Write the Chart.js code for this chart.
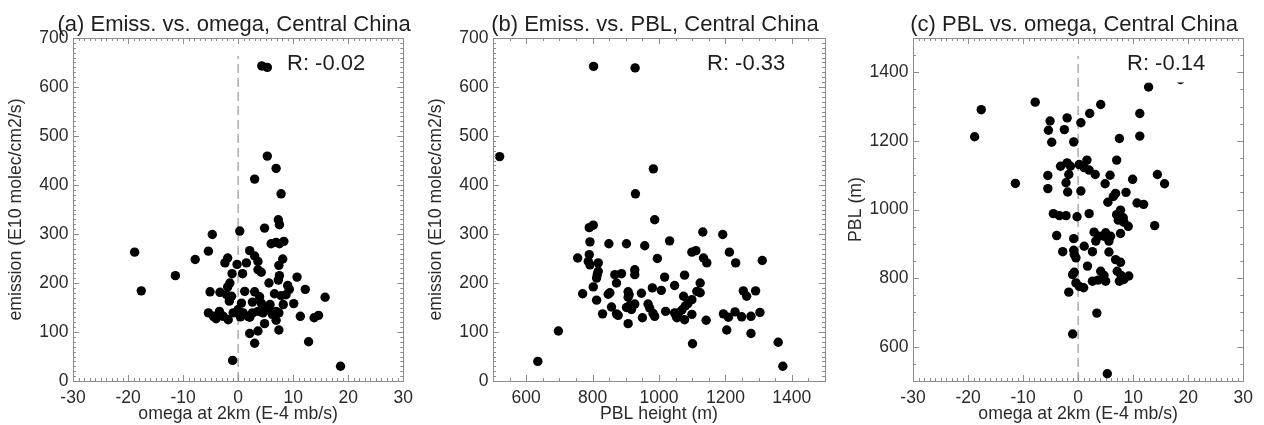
<!DOCTYPE html>
<html>
<head>
<meta charset="utf-8">
<title>Emission, omega and PBL - Central China</title>
<script src="https://cdn.jsdelivr.net/npm/chart.js@4.4.1/dist/chart.umd.min.js"></script>
<style>
    body { margin: 0; background: #fff; }
    .panel { position: absolute; top: 0; width: 420px; height: 425px; }
</style>
</head>
<body>
<div class="panel" style="left:0px"><canvas id="chartA" width="420" height="425"></canvas></div>
<div class="panel" style="left:420px"><canvas id="chartB" width="420" height="425"></canvas></div>
<div class="panel" style="left:840px"><canvas id="chartC" width="420" height="425"></canvas></div>

<script>
// ============================================
// DATA
// ============================================

// (a) emission vs. omega
const omegaA = [4.3, 5.3, 5.3, 6.9, -18.8, -17.6, -11.4, 18.6,
    3.0, 7.8, 7.3, 7.5, 4.8, 0.3, -4.7,
    6.0, 6.9, 7.5, 8.3, -5.4, 2.1, -7.8, -1.9, -2.4, -0.2, 1.5, 3.0, 3.6, 8.1, 7.4,
    -1.1, 0.8, 3.6, 4.2, 7.5, 7.3, 10.7, -1.5, -1.9, 5.6, 9.0, 9.3,
    -5.1, -3.3, -2.1, -1.2, 1.2, 3.0, 3.9, 6.6, 7.8, 8.7, 12.2, 15.8,
    -1.6, 0.6, 2.6, 4.2, 5.8, 8.2, 10.1,
    -5.4, -4.5, -3.4, -2.7, -1.8, -0.9, 0.0, 0.9, 1.8, 2.6, 3.6, 4.5, 5.4, 6.2, 6.9, 7.4, 11.3, 13.8, 14.6,
    4.8, 6.9, 2.1, 3.6, 7.4, 3.0, 12.8, -1.0,
    -4.0, 0.4, 2.1, 5.0, 6.3];
const emissA = [643, 640, 459, 434, 263, 184, 215, 30,
    412, 382, 329, 319, 312, 306, 299,
    280, 283, 280, 285, 265, 266, 248, 251, 241, 238, 241, 255, 244, 249, 236,
    219, 219, 227, 222, 215, 206, 212, 200, 192, 200, 195, 187,
    182, 181, 176, 173, 183, 182, 172, 178, 174, 176, 187, 171,
    163, 159, 161, 159, 156, 156, 158,
    139, 132, 142, 132, 125, 139, 146, 139, 132, 139, 142, 139, 146, 136, 142, 139, 132, 129, 134,
    117, 124, 97, 102, 104, 77, 80, 42,
    127, 131, 130, 150, 139];

// (b) emission vs. PBL height
const pblB = [929, 987, 790, 802, 792, 849, 902, 957, 1032, 755, 790, 787, 792, 817, 995,
    817, 814, 812, 867, 887, 927, 927, 872, 1017, 1047, 770, 802, 812, 847, 852,
    907, 907, 910, 947, 980, 1007, 830, 857, 872, 877, 902, 912, 927, 917, 907,
    950, 967, 972, 987, 982, 1020, 1047, 1052, 697,
    1132, 1192, 1099, 1111, 1134, 1144, 1212, 1231, 1311, 1077, 1124, 1114, 1124, 1074, 1099,
    1087, 1079, 1069, 1059, 1054, 1077, 1099, 1142, 1194, 1209, 1229, 1249, 1277, 1304,
    1254, 1264, 1291, 1204, 1277, 1101, 1359,
    1373, 520, 635, 803, 928, 983];
const emissB = [382, 329, 313, 318, 284, 280, 280, 276, 286, 251, 258, 244, 237, 241, 250,
    224, 217, 210, 217, 219, 227, 217, 200, 212, 195, 178, 192, 165, 177, 180,
    182, 171, 176, 179, 190, 185, 137, 151, 137, 134, 150, 154, 157, 146, 117,
    129, 157, 149, 132, 138, 142, 139, 132, 102,
    304, 299, 263, 266, 251, 241, 263, 241, 246, 216, 200, 183, 180, 173, 166,
    158, 153, 145, 139, 129, 125, 136, 124, 137, 130, 141, 131, 132, 140,
    184, 173, 184, 104, 97, 76, 79,
    30, 458, 40, 642, 639, 433];

// (c) PBL vs. omega
const omegaC = [-7.8, 4.1, 2.1, 11.2, -5.1, -2.0, 0.5, -5.4, -2.5, -4.8, -0.8, 7.5, 11.2,
    -3.2, -2.0, -1.4, -1.7, 0.2, 1.6, 1.1, 2.0, 3.1, 7.0, -5.5, -5.5, -2.2, -1.9, 0.5,
    5.8, 4.9, 9.9, 14.4, 15.7, 8.7, 5.4, 6.4, 6.8, 10.7, 11.9,
    -4.5, -3.4, -2.2, -0.2, 2.0, 7.0, 7.7, 7.3, 8.2, 8.3, 9.1, 13.9, 7.7,
    -3.9, -0.8, 2.9, 3.8, 4.7, 5.6, 3.2, 5.0, 5.9, 1.1, 2.6, -0.8, -2.8, -0.7, -0.4,
    5.6, 6.8, 7.7, 1.7, -0.7, -1.0, 4.1, 4.7, 3.6, 2.6, 5.0, 7.1, 7.8, 7.5, 9.2, 8.3,
    -0.4, 0.2, 1.0, -1.7,
    3.4, -1.0, 5.3, 12.8, 18.6, -18.8, -17.6, -11.4];
const pblC = [1313, 1306, 1280, 1280, 1258, 1267, 1253, 1231, 1233, 1196, 1197, 1207, 1214,
    1126, 1136, 1126, 1102, 1131, 1144, 1122, 1115, 1102, 1144, 1099, 1061, 1078, 1051, 1054,
    1100, 1075, 1088, 1102, 1075, 1050, 1021, 1038, 1047, 1019, 1015,
    988, 982, 982, 979, 988, 985, 998, 969, 976, 963, 951, 953, 930,
    924, 915, 934, 922, 922, 908, 908, 932, 922, 893, 877, 881, 877, 869, 859,
    876, 854, 846, 835, 817, 810, 820, 808, 794, 791, 791, 820, 808, 791, 806, 796,
    786, 776, 772, 759,
    698, 637, 521, 1357, 1379, 1212, 1291, 1076];

// axis ticks
const omegaTicks = [-30, -20, -10, 0, 10, 20, 30];
const emissTicks = [0, 100, 200, 300, 400, 500, 600, 700];
const pblTicks = [600, 800, 1000, 1200, 1400];

const rValues = ['R: -0.02', 'R: -0.33', 'R: -0.14'];

// ============================================
// FRAME / TICKS / LABELS PLUGIN
// ============================================
const FONT = '"Liberation Sans", Arial, Helvetica, sans-serif';

function drawTickMarks(ctx, scale, area, minor, major, horizontal) {
    const n = Math.round((scale.max - scale.min) / minor);
    ctx.beginPath();
    for (let i = 0; i <= n; i++) {
        const v = scale.min + i * minor;
        const isMajor = Math.abs(v / major - Math.round(v / major)) < 1e-6;
        const len = isMajor ? 6 : 3;
        const p = Math.round(scale.getPixelForValue(v)) + 0.5;
        if (horizontal) {
            ctx.moveTo(p, area.bottom); ctx.lineTo(p, area.bottom - len);
            ctx.moveTo(p, area.top); ctx.lineTo(p, area.top + len);
        } else {
            ctx.moveTo(area.left, p); ctx.lineTo(area.left + len, p);
            ctx.moveTo(area.right, p); ctx.lineTo(area.right - len, p);
        }
    }
    ctx.stroke();
}

const idlFrame = {
    id: 'idlFrame',
    beforeDatasetsDraw(chart, args, opts) {
        if (!opts.zeroLine) return;
        const { ctx, chartArea: a, scales: { x } } = chart;
        const px = x.getPixelForValue(0);
        ctx.save();
        ctx.strokeStyle = '#ababab';
        ctx.lineWidth = 1.5;
        ctx.setLineDash([9, 5]);
        ctx.beginPath();
        ctx.moveTo(px, a.bottom);
        ctx.lineTo(px, a.top + 18);
        ctx.stroke();
        ctx.restore();
    },
    afterDatasetsDraw(chart, args, opts) {
        const { ctx, chartArea: a, scales: { x, y } } = chart;
        ctx.save();

        // R label sits on a white box (it hides the point behind it in (c))
        ctx.font = '22px ' + FONT;
        const rx = a.left + 214, ry = 70;
        const w = ctx.measureText(opts.rText).width;
        ctx.fillStyle = '#fff';
        ctx.fillRect(rx - 4, ry - 22, w + 8, 34.5);
        ctx.fillStyle = '#1e1e1e';
        ctx.textBaseline = 'alphabetic';
        ctx.fillText(opts.rText, rx, ry);

        // panel title
        ctx.textAlign = 'center';
        ctx.fillText(opts.title, (a.left + a.right) / 2 - 4, 31);

        // box + inward ticks
        ctx.strokeStyle = '#8c8c8c';
        ctx.lineWidth = 1;
        ctx.strokeRect(Math.round(a.left) + 0.5, Math.round(a.top) + 0.5,
            Math.round(a.right - a.left), Math.round(a.bottom - a.top));
        drawTickMarks(ctx, x, a, opts.xMinor, opts.xMajor, true);
        drawTickMarks(ctx, y, a, opts.yMinor, opts.yMajor, false);
        ctx.restore();
    }
};

// ============================================
// CHART BUILDER
// ============================================
function makeScale(min, max, tickValues, titleText, isX) {
    return {
        type: 'linear',
        min: min,
        max: max,
        afterBuildTicks: (s) => { s.ticks = tickValues.map(v => ({ value: v })); },
        ticks: {
            color: '#2a2a2a',
            font: { family: FONT, size: 17.5 },
            padding: isX ? 7 : 4.5,
            maxRotation: 0,
            autoSkip: false,
            callback: (v) => String(v)
        },
        grid: { display: false, drawTicks: false },
        border: { display: false },
        title: {
            display: true,
            text: titleText,
            color: '#2a2a2a',
            font: { family: FONT, size: 17.7 },
            padding: isX ? { top: 0, bottom: 0 } : { top: 5, bottom: 0 }
        },
        afterFit: (s) => {
            if (isX) s.height = 44; else s.width = 73;
        }
    };
}

function renderPanel(id, xs, ys, xScale, yScale, frameOpts) {
    const points = xs.map((v, i) => ({ x: v, y: ys[i] }));
    return new Chart(document.getElementById(id), {
        type: 'scatter',
        data: {
            datasets: [{
                data: points,
                backgroundColor: '#000',
                borderColor: '#000',
                borderWidth: 0,
                pointRadius: 4.7,
                pointHoverRadius: 4.7
            }]
        },
        options: {
            responsive: false,
            animation: false,
            layout: { padding: { top: 38, right: 15, left: 0, bottom: 0 } },
            plugins: {
                legend: { display: false },
                tooltip: { enabled: false },
                idlFrame: frameOpts
            },
            scales: { x: xScale, y: yScale }
        },
        plugins: [idlFrame]
    });
}

// ============================================
// RENDER ALL PANELS
// ============================================
renderPanel('chartA', omegaA, emissA,
    makeScale(-30, 30, omegaTicks, 'omega at 2km (E-4 mb/s)', true),
    makeScale(0, 700, emissTicks, 'emission (E10 molec/cm2/s)', false),
    { title: '(a) Emiss. vs. omega, Central China', rText: rValues[0], zeroLine: true,
      xMinor: 1, xMajor: 10, yMinor: 10, yMajor: 100 });

renderPanel('chartB', pblB, emissB,
    makeScale(500, 1500, pblTicks, 'PBL height (m)', true),
    makeScale(0, 700, emissTicks, 'emission (E10 molec/cm2/s)', false),
    { title: '(b) Emiss. vs. PBL, Central China', rText: rValues[1], zeroLine: false,
      xMinor: 50, xMajor: 200, yMinor: 10, yMajor: 100 });

renderPanel('chartC', omegaC, pblC,
    makeScale(-30, 30, omegaTicks, 'omega at 2km (E-4 mb/s)', true),
    makeScale(500, 1500, pblTicks, 'PBL (m)', false),
    { title: '(c) PBL vs. omega, Central China', rText: rValues[2], zeroLine: true,
      xMinor: 1, xMajor: 10, yMinor: 50, yMajor: 200 });
</script>
</body>
</html>
